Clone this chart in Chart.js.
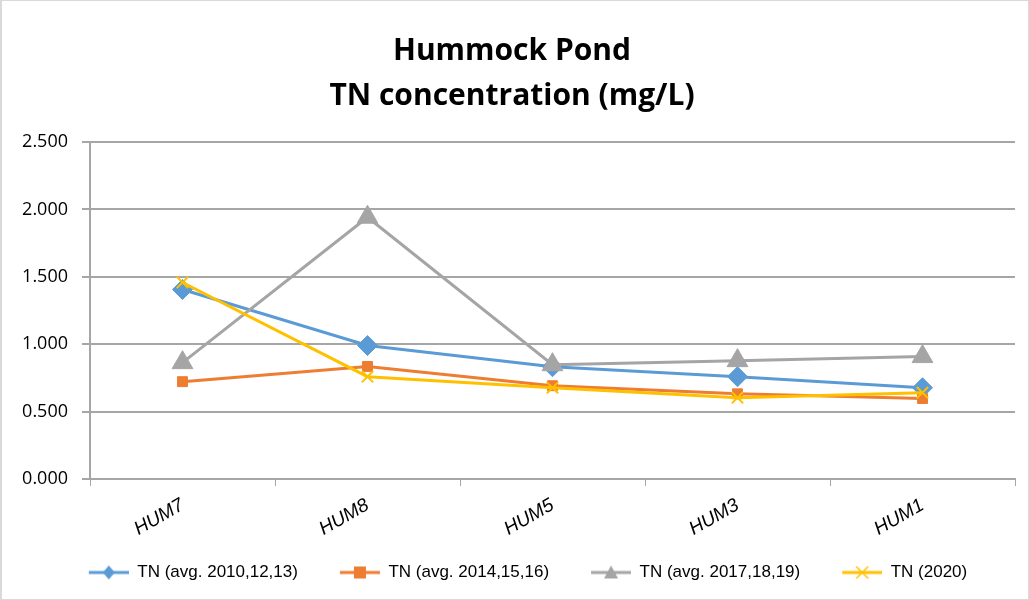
<!DOCTYPE html>
<html>
<head>
<meta charset="utf-8">
<script src="https://cdn.jsdelivr.net/npm/chart.js@4"></script>
<style>
  html, body { margin: 0; padding: 0; background: #fff; }
  #wrap { position: relative; width: 1029px; height: 600px; box-sizing: border-box; border: 1px solid #d9d9d9; border-left-width: 2px; }
</style>
</head>
<body>
<div id="wrap"><canvas id="chart" width="1026" height="598"></canvas></div>
<script>
const sites = ['HUM7', 'HUM8', 'HUM5', 'HUM3', 'HUM1'];
const seriesNames = ['TN (avg. 2010,12,13)', 'TN (avg. 2014,15,16)', 'TN (avg. 2017,18,19)', 'TN (2020)'];
const tnAvg2010 = [1.406, 0.990, 0.833, 0.759, 0.677];
const tnAvg2014 = [0.722, 0.835, 0.692, 0.632, 0.597];
const tnAvg2017 = [0.863, 1.942, 0.848, 0.878, 0.908];
const tn2020 = [1.458, 0.759, 0.677, 0.603, 0.640];
const yTicks = [0, 0.5, 1.0, 1.5, 2.0, 2.5];

const colors = ['#5B9BD5', '#ED7D31', '#A5A5A5', '#FFC000'];
const styles = ['rectRot', 'rect', 'triangle', 'crossRot'];
const radii = [10, 7, 12, 8];
const allSeries = [tnAvg2010, tnAvg2014, tnAvg2017, tn2020];

// legend swatch: transparent gap on the left, then a line with the marker
const SW = 72, LINE = 44;
function swatch(i) {
  const c = document.createElement('canvas');
  c.width = SW; c.height = 16;
  const g = c.getContext('2d');
  g.strokeStyle = colors[i]; g.fillStyle = colors[i]; g.lineWidth = 3;
  const x0 = SW - LINE + 4;
  g.beginPath(); g.moveTo(x0, 8); g.lineTo(SW, 8); g.stroke();
  const x = x0 + LINE / 2 - 2, y = 8;
  g.beginPath();
  if (i === 0) { g.moveTo(x, y - 7); g.lineTo(x + 6, y); g.lineTo(x, y + 7); g.lineTo(x - 6, y); g.closePath(); g.fill(); }
  else if (i === 1) { g.fillRect(x - 6, y - 6, 12, 12); }
  else if (i === 2) { g.moveTo(x, y - 7); g.lineTo(x + 7, y + 6); g.lineTo(x - 7, y + 6); g.closePath(); g.fill(); }
  else { g.lineWidth = 1.5; g.moveTo(x - 6, y - 6); g.lineTo(x + 6, y + 6); g.moveTo(x + 6, y - 6); g.lineTo(x - 6, y + 6); g.stroke(); }
  return c;
}

const ctx = document.getElementById('chart').getContext('2d');
new Chart(ctx, {
  type: 'line',
  data: {
    labels: sites,
    datasets: allSeries.map((vals, i) => ({
      label: seriesNames[i],
      data: vals,
      borderColor: colors[i],
      backgroundColor: colors[i],
      borderWidth: 3,
      pointStyle: styles[i],
      pointRadius: radii[i],
      pointHoverRadius: radii[i],
      pointBorderWidth: i === 3 ? 2 : 1,
      order: 3 - i,
      tension: 0
    }))
  },
  options: {
    responsive: false,
    animation: false,
    layout: { padding: { left: 4, right: 10, top: 0, bottom: 8 } },
    plugins: {
      tooltip: { enabled: false },
      title: {
        display: true,
        text: ['Hummock Pond', 'TN concentration (mg/L)'],
        color: '#000',
        font: { family: 'Open Sans', size: 30, weight: 'bold', lineHeight: 1.5 },
        padding: { top: 28, bottom: 23 }
      },
      legend: {
        position: 'bottom',
        labels: {
          color: '#000',
          font: { family: 'Liberation Sans Narrow, Liberation Sans', size: 17 },
          usePointStyle: true,
          pointStyleWidth: SW,
          padding: 10,
          generateLabels: (chart) => chart.data.datasets.map((ds, i) => ({
            text: ds.label,
            pointStyle: swatch(i),
            fillStyle: colors[i],
            strokeStyle: colors[i],
            lineWidth: 0,
            datasetIndex: i,
            hidden: false
          }))
        }
      }
    },
    scales: {
      x: {
        offset: true,
        grid: { offset: true, drawOnChartArea: false, color: '#a6a6a6', tickLength: 7 },
        border: { color: '#a6a6a6', width: 2 },
        ticks: {
          color: '#000',
          maxRotation: 30, minRotation: 30,
          font: { family: 'Liberation Sans Narrow, Liberation Sans', size: 19, style: 'italic' },
          padding: 8
        },
        afterFit: (s) => { s.height = 75; }
      },
      y: {
        min: 0, max: 2.5,
        afterBuildTicks: (s) => { s.ticks = yTicks.map(v => ({ value: v })); },
        grid: { color: '#a6a6a6', lineWidth: 2, tickLength: 8 },
        border: { color: '#a6a6a6', width: 2 },
        ticks: {
          color: '#000',
          font: { family: 'Open Sans', size: 18 },
          padding: 14,
          callback: (v) => Number(v).toFixed(3)
        },
        afterFit: (s) => { s.width = 84; }
      }
    }
  }
});
</script>
</body>
</html>
